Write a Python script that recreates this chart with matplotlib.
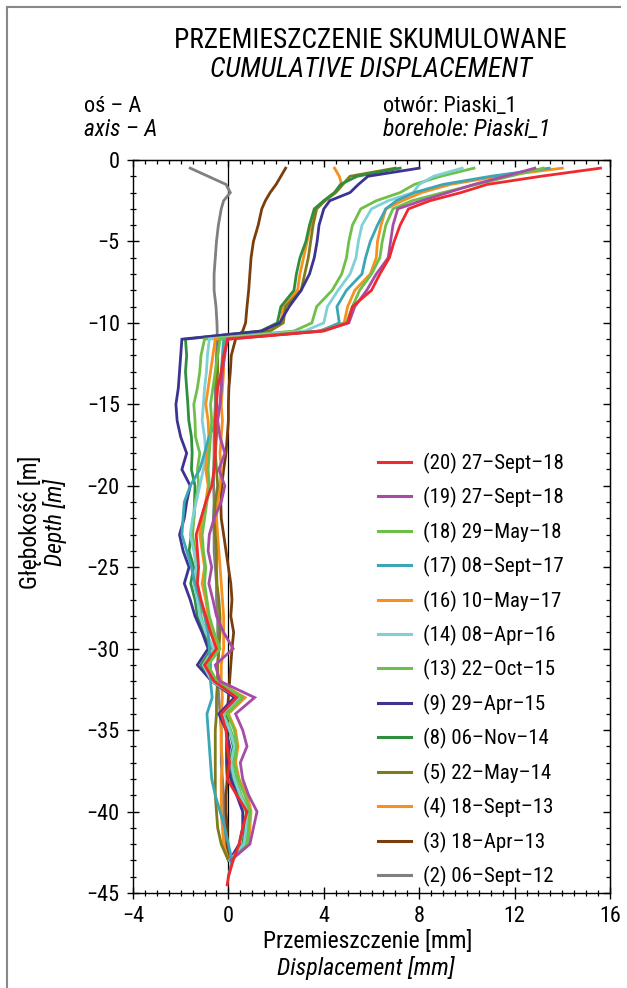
import numpy as np
import matplotlib
matplotlib.use("Agg")
import matplotlib.pyplot as plt
from matplotlib.lines import Line2D
from matplotlib.ticker import MultipleLocator

plt.rcParams['font.family'] = ['Roboto Condensed', 'Liberation Sans Narrow', 'Roboto', 'DejaVu Sans']
plt.rcParams['axes.unicode_minus'] = True

nan = np.nan

depth = [-0.5, -1, -1.5, -2, -2.5, -3, -4, -5, -6, -7, -8, -9, -10, -10.5,
         -11, -12, -13, -14, -15, -16, -17, -18, -19, -20, -21, -22, -23, -24, -25, -26, -27, -28,
         -29, -30, -31, -32, -33, -34, -35, -36, -37, -38, -39, -40, -41, -42, -43,
         -44, -44.5]

labels = ["(20) 27–Sept–18", "(19) 27–Sept–18", "(18) 29–May–18", "(17) 08–Sept–17",
          "(16) 10–May–17", "(14) 08–Apr–16", "(13) 22–Oct–15", "(9) 29–Apr–15",
          "(8) 06–Nov–14", "(5) 22–May–14", "(4) 18–Sept–13", "(3) 18–Apr–13",
          "(2) 06–Sept–12"]

s20 = [15.6, 13.1, 10.85, 9.75, 8.45, 7.55, 7.2, 6.95, 6.75, 6.35, 6.0, 5.2, 5.0, 4.0,
       -0.02, -0.2, -0.3, -0.45, -0.5, -0.55, -0.55, -0.55, -0.6, -0.7, -0.95, -1.15, -1.35, -1.3, -1.25, -1.3, -1.15, -0.95,
       -0.75, -0.5, -1.0, -0.6, 0.35, -0.3, -0.1, -0.05, 0.05, -0.05, 0.35, 0.78, 0.6, 0.45, 0.2,
       0.0, -0.05]
s19 = [12.85, 11.6, 10.3, 9.2, 8.1, 7.1, 6.9, 6.8, 6.7, 6.2, 5.8, 5.3, 5.05, 3.9,
       -0.05, -0.15, -0.25, -0.3, -0.35, -0.45, -0.35, -0.15, -0.4, -0.15, -0.3, -0.6, -0.8, -0.85, -0.7, -0.82, -0.65, -0.5,
       -0.2, 0.2, -0.55, -0.35, 1.1, 0.3, 0.6, 0.78, 0.5, 0.6, 0.85, 1.2, 1.05, 0.9, 0.1,
       nan, nan]
s18 = [13.2, 11.8, 10.4, 9.0, 7.7, 6.9, 6.6, 6.45, 6.35, 6.0, 5.5, 5.2, 4.95, 3.85,
       -0.35, -0.45, -0.55, -0.65, -0.75, -0.7, -0.75, -0.8, -0.85, -0.8, -0.9, -1.0, -1.1, -1.05, -0.95, -1.0, -0.9, -0.8,
       -0.6, -0.35, -0.85, -0.5, 0.6, -0.05, 0.25, 0.35, 0.25, 0.4, 0.7, 0.9, 0.85, 0.8, 0.1,
       nan, nan]
s17 = [13.45, 11.0, 9.0, 7.8, 7.05, 6.6, 6.25, 5.95, 5.75, 5.6, 4.95, 4.55, 4.65, 3.85,
       -0.2, -0.25, -0.3, -0.3, -0.35, -0.5, -0.82, -1.0, -1.2, -1.6, -1.85, -1.9, -1.95, -1.75, -1.55, -1.4, -1.2, -1.0,
       -0.85, -0.8, -0.75, -0.75, -0.68, -0.9, -0.85, -0.8, -0.75, -0.7, -0.55, -0.35, -0.15, 0.0, 0.15,
       0.0, nan]
s16 = [14.0, 11.3, 9.3, 8.1, 7.3, 6.6, 6.4, 6.25, 6.2, 5.95, 5.3, 5.0, 4.85, 3.8,
       -0.55, -0.65, -0.75, -0.85, -0.95, -0.85, -0.82, -0.9, -0.95, -0.85, -0.95, -1.1, -1.2, -1.1, -1.0, -1.1, -0.95, -0.85,
       -0.65, -0.4, -0.9, -0.5, 0.7, 0.0, 0.3, 0.4, 0.3, 0.45, 0.8, 0.95, 0.9, 0.85, 0.1,
       nan, nan]
s14 = [9.8, 8.6, 8.0, 7.75, 6.7, 6.0, 5.6, 5.45, 5.35, 5.1, 4.6, 4.15, 4.0, 3.2,
       -0.8, -0.88, -0.92, -1.0, -1.05, -1.1, -1.0, -0.95, -1.05, -1.2, -1.35, -1.5, -1.6, -1.45, -1.35, -1.45, -1.3, -1.2,
       -0.95, -0.6, -1.05, -0.7, 0.4, -0.25, 0.05, 0.25, 0.1, 0.25, 0.5, 0.8, 0.75, 0.65, 0.05,
       nan, nan]
s13 = [10.3, 8.9, 7.8, 7.2, 6.2, 5.55, 5.2, 5.05, 4.95, 4.75, 4.35, 3.7, 3.5, 2.75,
       -1.0, -1.15, -1.2, -1.3, -1.45, -1.4, -1.38, -1.2, -1.3, -1.25, -1.4, -1.45, -1.5, -1.4, -1.3, -1.4, -1.2, -1.15,
       -0.95, -0.65, -1.05, -0.65, 0.45, -0.2, 0.1, 0.3, 0.15, 0.3, 0.55, 0.85, 0.8, 0.7, 0.05,
       nan, nan]
s9 = [8.0, 5.85, 5.45, 5.1, 4.25, 4.0, 3.8, 3.72, 3.6, 3.4, 3.05, 2.55, 2.15, 1.4,
      -1.95, -2.0, -2.05, -2.1, -2.2, -2.15, -2.0, -1.75, -1.95, -1.6, -1.75, -1.85, -2.05, -1.9, -1.65, -1.85, -1.6, -1.4,
      -1.1, -0.85, -1.3, -0.7, 0.25, -0.4, -0.1, 0.05, -0.05, 0.1, 0.35, 0.6, 0.6, 0.45, 0.05,
      nan, nan]
s8 = [7.2, 5.4, 4.7, 4.45, 4.0, 3.6, 3.4, 3.25, 3.0, 2.85, 2.75, 2.2, 2.05, 1.35,
      -1.8, -1.75, -1.8, -1.75, -1.7, -1.66, -1.55, -1.52, -1.55, -1.4, -1.42, -1.45, -1.55, -1.65, -1.45, -1.58, -1.4, -1.3,
      -1.05, -0.7, -1.15, -0.6, 0.3, -0.25, 0.05, 0.2, 0.05, 0.2, 0.45, 0.75, 0.7, 0.6, 0.05,
      nan, nan]
s5 = [7.0, 5.1, 4.8, 4.5, 4.05, 3.7, 3.55, 3.45, 3.35, 3.2, 3.05, 2.4, 2.3, 1.75,
      -0.4, -0.45, -0.45, -0.5, -0.5, -0.45, -0.5, -0.55, -0.5, -0.45, -0.55, -0.6, -0.55, -0.5, -0.5, -0.48, -0.4, -0.35,
      -0.35, -0.4, -0.45, -0.45, -0.5, -0.5, -0.55, -0.55, -0.55, -0.55, -0.55, -0.5, -0.45, -0.3, 0.0,
      nan, nan]
s4 = [4.45, 4.65, 4.75, 4.45, 4.0, 3.65, 3.45, 3.3, 3.15, 3.0, 2.9, 2.3, 2.2, 1.6,
      -0.15, -0.2, -0.2, -0.25, -0.3, -0.25, -0.3, -0.35, -0.3, -0.35, -0.45, -0.5, -0.45, -0.4, -0.35, -0.3, -0.25, -0.2,
      -0.2, -0.2, -0.3, -0.3, -0.25, -0.3, -0.3, -0.3, -0.25, -0.3, -0.3, -0.3, -0.25, -0.2, 0.0,
      nan, nan]
s3 = [2.4, 2.2, 2.0, 1.75, 1.55, 1.4, 1.25, 1.05, 0.95, 0.9, 0.85, 0.78, 0.72, 0.6,
      0.3, 0.12, 0.08, 0.02, 0.0, 0.0, -0.05, -0.1, -0.2, -0.28, -0.32, -0.3, -0.2, -0.1, 0.0, 0.1, 0.15, 0.1,
      0.22, 0.15, 0.1, 0.05, 0.0, -0.05, -0.05, -0.08, -0.08, -0.05, -0.1, -0.1, -0.05, -0.05, 0.0,
      nan, nan]
s2 = [-1.6, -0.85, -0.1, 0.08, -0.2, -0.3, -0.42, -0.5, -0.55, -0.6, -0.6, -0.52, -0.48, -0.47,
      -0.47, -0.5, -0.52, -0.55, -0.55, -0.58, -0.6, -0.6, -0.62, -0.62, -0.6, -0.63, -0.6, -0.6, -0.55, -0.5, -0.5, -0.45,
      -0.45, -0.4, -0.45, -0.45, -0.4, -0.35, -0.3, -0.3, -0.3, -0.25, -0.2, -0.2, -0.15, -0.1, 0.0,
      nan, nan]

series = [s20, s19, s18, s17, s16, s14, s13, s9, s8, s5, s4, s3, s2]
colors = ['#ee2a2e', '#a64ca6', '#6cc04a', '#3ba6b5', '#f7901e', '#7fd1d6', '#6fbf4a',
          '#3d3393', '#2f8f3f', '#7e7b1a', '#f7901e', '#7a3d0c', '#808080']

fig = plt.figure(figsize=(6.27, 9.88), dpi=100)
ax = fig.add_axes([133 / 627, 1 - 893 / 988, (610 - 133) / 627, (893 - 160) / 988])

ax.axvline(0, color='black', lw=0.9, zorder=1)
for vals, col in reversed(list(zip(series, colors))):
    ax.plot(vals, depth, color=col, lw=2.0, zorder=2, solid_joinstyle='miter')

ax.set_xlim(-4, 16)
ax.set_ylim(-45, 0)
ax.xaxis.set_major_locator(MultipleLocator(4))
ax.xaxis.set_minor_locator(MultipleLocator(0.5))
ax.yaxis.set_major_locator(MultipleLocator(5))
ax.yaxis.set_minor_locator(MultipleLocator(1))
ax.tick_params(which='major', direction='inout', length=9, width=1.0, labelsize=16)
ax.tick_params(which='minor', direction='inout', length=5, width=0.9)
ax.tick_params(axis='x', which='major', pad=5)
ax.tick_params(axis='y', which='major', pad=5)
for sp in ax.spines.values():
    sp.set_linewidth(1.0)

top = ax.secondary_xaxis('top')
top.xaxis.set_major_locator(MultipleLocator(4))
top.xaxis.set_minor_locator(MultipleLocator(0.5))
top.tick_params(which='major', direction='in', length=5, width=1.0, labeltop=False)
top.tick_params(which='minor', direction='in', length=3, width=0.9)
right = ax.secondary_yaxis('right')
right.yaxis.set_major_locator(MultipleLocator(5))
right.yaxis.set_minor_locator(MultipleLocator(1))
right.tick_params(which='major', direction='in', length=5, width=1.0, labelright=False)
right.tick_params(which='minor', direction='in', length=3, width=0.9)

handles = [Line2D([], [], color=c, lw=2.2) for c in colors]
fig.legend(handles, labels, loc='upper left', bbox_to_anchor=(359 / 627, 1 - 434 / 988),
           frameon=False, fontsize=15, handlelength=1.6, handletextpad=0.58, labelspacing=0.64)

fig.text(370 / 627, 1 - 40 / 988, "PRZEMIESZCZENIE SKUMULOWANE", ha='center', va='center', fontsize=19.8)
fig.text(371 / 627, 1 - 70 / 988, "CUMULATIVE DISPLACEMENT", ha='center', va='center', fontsize=20, style='italic')
fig.text(84 / 627, 1 - 106 / 988, "oś – A", ha='left', va='center', fontsize=16)
fig.text(84 / 627, 1 - 130 / 988, "axis – A", ha='left', va='center', fontsize=16.8, style='italic')
fig.text(383 / 627, 1 - 106 / 988, "otwór: Piaski_1", ha='left', va='center', fontsize=16)
fig.text(383 / 627, 1 - 130 / 988, "borehole: Piaski_1", ha='left', va='center', fontsize=17.2, style='italic')
fig.text(30 / 627, 1 - 522 / 988, "Głębokość [m]", ha='center', va='center', rotation=90, fontsize=17)
fig.text(55 / 627, 1 - 522 / 988, "Depth [m]", ha='center', va='center', rotation=90, fontsize=17, style='italic')
fig.text(368 / 627, 1 - 942 / 988, "Przemieszczenie [mm]", ha='center', va='center', fontsize=17)
fig.text(366 / 627, 1 - 968 / 988, "Displacement [mm]", ha='center', va='center', fontsize=17.3, style='italic')

# outer frame (top and left)
fig.add_artist(Line2D([7 / 627, 7 / 627], [0, 1 - 7 / 988], transform=fig.transFigure, color='#888888', lw=1.5))
fig.add_artist(Line2D([7 / 627, 620 / 627], [1 - 7 / 988, 1 - 7 / 988], transform=fig.transFigure, color='#888888', lw=1.5))

fig.savefig("out.png", dpi=100)
